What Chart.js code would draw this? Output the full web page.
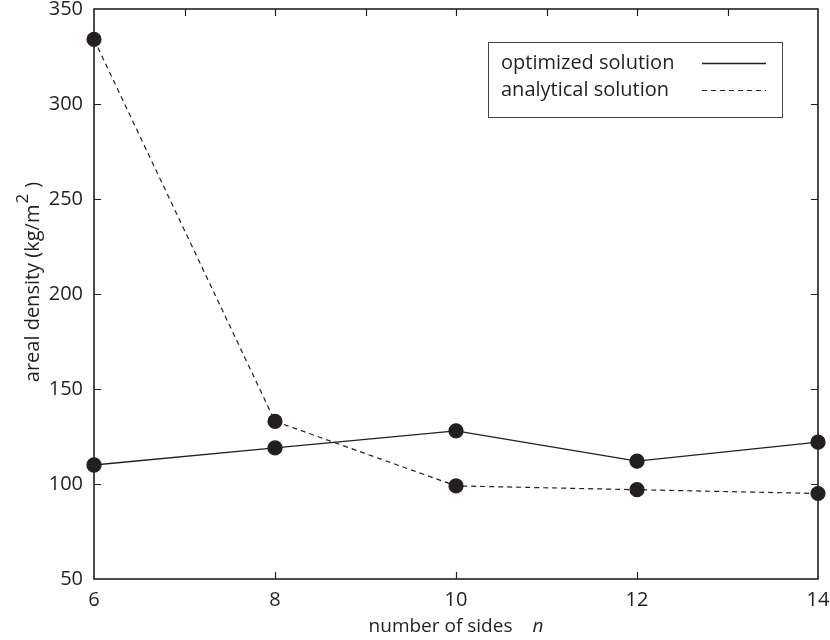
<!DOCTYPE html>
<html lang="en">
<head>
    <meta charset="UTF-8">
    <title>Areal density vs number of sides</title>
    <script src="https://cdn.jsdelivr.net/npm/chart.js"></script>
    <style>
        html, body { margin: 0; padding: 0; background: #fff; }
        #wrap { width: 830px; height: 640px; }
    </style>
</head>
<body>
    <div id="wrap"><canvas id="densityChart" width="830" height="640"></canvas></div>

    <script>
        // chart data
        const sides = [6, 8, 10, 12, 14];
        const optimized = [110, 119, 128, 112, 122];
        const analytical = [334, 133, 99, 97, 95];
        const seriesNames = ['optimized solution', 'analytical solution'];

        // tick values
        const xTicks = [6, 8, 10, 12, 14];
        const xTopTicks = [7, 8, 9, 10, 11, 12, 13];
        const yTicks = [50, 100, 150, 200, 250, 300, 350];

        const ink = '#231f20';
        const font = 'Open Sans';

        // frame, inward ticks, axis titles and legend drawn on top of the chart area
        const framePlugin = {
            id: 'frame',
            afterDraw(chart) {
                const ctx = chart.ctx;
                const a = chart.chartArea;
                const xs = chart.scales.x;
                const ys = chart.scales.y;
                const tick = 7;

                ctx.save();
                ctx.strokeStyle = ink;
                ctx.lineWidth = 1.2;
                ctx.beginPath();
                xTicks.slice(1, -1).forEach(v => {
                    const px = Math.round(xs.getPixelForValue(v)) + 0.5;
                    ctx.moveTo(px, a.bottom);
                    ctx.lineTo(px, a.bottom - tick);
                });
                xTopTicks.forEach(v => {
                    const px = Math.round(xs.getPixelForValue(v)) + 0.5;
                    ctx.moveTo(px, a.top);
                    ctx.lineTo(px, a.top + tick);
                });
                yTicks.slice(1, -1).forEach(v => {
                    const py = Math.round(ys.getPixelForValue(v)) + 0.5;
                    ctx.moveTo(a.left, py);
                    ctx.lineTo(a.left + tick, py);
                    ctx.moveTo(a.right, py);
                    ctx.lineTo(a.right - tick, py);
                });
                ctx.stroke();

                ctx.lineWidth = 1.6;
                ctx.strokeRect(a.left, a.top, a.right - a.left, a.bottom - a.top);

                // x axis title with italic n
                ctx.fillStyle = ink;
                ctx.textBaseline = 'middle';
                const midX = (a.left + a.right) / 2;
                ctx.font = '19px "' + font + '"';
                const part1 = 'number of sides';
                const w1 = ctx.measureText(part1).width;
                ctx.font = 'italic 19px "' + font + '"';
                const w2 = ctx.measureText('n').width;
                const gap = 20;
                const startX = midX - (w1 + gap + w2) / 2;
                ctx.font = '19px "' + font + '"';
                ctx.textAlign = 'left';
                ctx.fillText(part1, startX, 627);
                ctx.font = 'italic 19px "' + font + '"';
                ctx.fillText('n', startX + w1 + gap, 627);

                // y axis title with superscript
                ctx.save();
                ctx.translate(33, 0);
                ctx.rotate(-Math.PI / 2);
                ctx.font = '20px "' + font + '"';
                const t1 = 'areal density (kg/m';
                const t3 = ' )';
                const l1 = ctx.measureText(t1).width;
                const l3 = ctx.measureText(t3).width;
                ctx.font = '17px "' + font + '"';
                const l2 = ctx.measureText('2').width + 2;
                const total = l1 + l2 + l3;
                const cy = 282;
                let pos = -cy - total / 2;
                ctx.textAlign = 'left';
                ctx.font = '20px "' + font + '"';
                ctx.fillText(t1, pos, 0);
                pos += l1 + 1;
                ctx.font = '17px "' + font + '"';
                ctx.fillText('2', pos, -10);
                pos += l2 - 1;
                ctx.font = '20px "' + font + '"';
                ctx.fillText(t3, pos, 0);
                ctx.restore();

                // legend: label on the left, line sample on the right
                const boxR = a.right - 36;
                const boxL = boxR - 294;
                const boxT = a.top + 33;
                const boxB = boxT + 75;
                ctx.lineWidth = 1;
                ctx.strokeStyle = '#444';
                ctx.strokeRect(boxL + 0.5, boxT + 0.5, boxR - boxL, boxB - boxT);
                chart.data.datasets.forEach((ds, i) => {
                    const rowY = boxT + 21 + i * 27;
                    ctx.font = '20px "' + font + '"';
                    ctx.fillStyle = ink;
                    ctx.textAlign = 'left';
                    ctx.fillText(ds.label, boxL + 13, rowY);
                    ctx.strokeStyle = ink;
                    ctx.lineWidth = ds.borderWidth;
                    ctx.setLineDash(ds.borderDash || []);
                    ctx.beginPath();
                    ctx.moveTo(boxR - 80, rowY + 0.5);
                    ctx.lineTo(boxR - 16, rowY + 0.5);
                    ctx.stroke();
                    ctx.setLineDash([]);
                });
                ctx.restore();
            }
        };

        const toPoints = values => sides.map((x, i) => ({ x: x, y: values[i] }));

        new Chart(document.getElementById('densityChart'), {
            type: 'line',
            data: {
                datasets: [{
                    label: seriesNames[0],
                    data: toPoints(optimized),
                    borderColor: ink,
                    borderWidth: 1.3,
                    backgroundColor: ink,
                    pointBackgroundColor: ink,
                    pointBorderColor: ink,
                    pointRadius: 7,
                    tension: 0,
                    fill: false
                }, {
                    label: seriesNames[1],
                    data: toPoints(analytical),
                    borderColor: ink,
                    borderWidth: 1.2,
                    borderDash: [5, 4],
                    backgroundColor: ink,
                    pointBackgroundColor: ink,
                    pointBorderColor: ink,
                    pointRadius: 7,
                    tension: 0,
                    fill: false
                }]
            },
            options: {
                responsive: false,
                animation: false,
                clip: false,
                layout: { padding: { top: 9, right: 12, left: 0, bottom: 0 } },
                plugins: {
                    legend: { display: false },
                    tooltip: { enabled: false }
                },
                scales: {
                    x: {
                        type: 'linear',
                        min: 6,
                        max: 14,
                        afterBuildTicks: scale => { scale.ticks = xTicks.map(v => ({ value: v })); },
                        afterFit: scale => {
                            scale.height = 61;
                            scale.paddingLeft = 0;
                            scale.paddingRight = 0;
                        },
                        grid: { display: false, drawTicks: false },
                        border: { display: false },
                        ticks: { padding: 9, color: ink, font: { family: font, size: 20 } }
                    },
                    y: {
                        min: 50,
                        max: 350,
                        afterBuildTicks: scale => { scale.ticks = yTicks.map(v => ({ value: v })); },
                        afterFit: scale => {
                            scale.width = 94;
                            scale.paddingTop = 0;
                            scale.paddingBottom = 0;
                        },
                        grid: { display: false, drawTicks: false },
                        border: { display: false },
                        ticks: { padding: 11, color: ink, font: { family: font, size: 20 } }
                    }
                }
            },
            plugins: [framePlugin]
        });
    </script>
</body>
</html>
